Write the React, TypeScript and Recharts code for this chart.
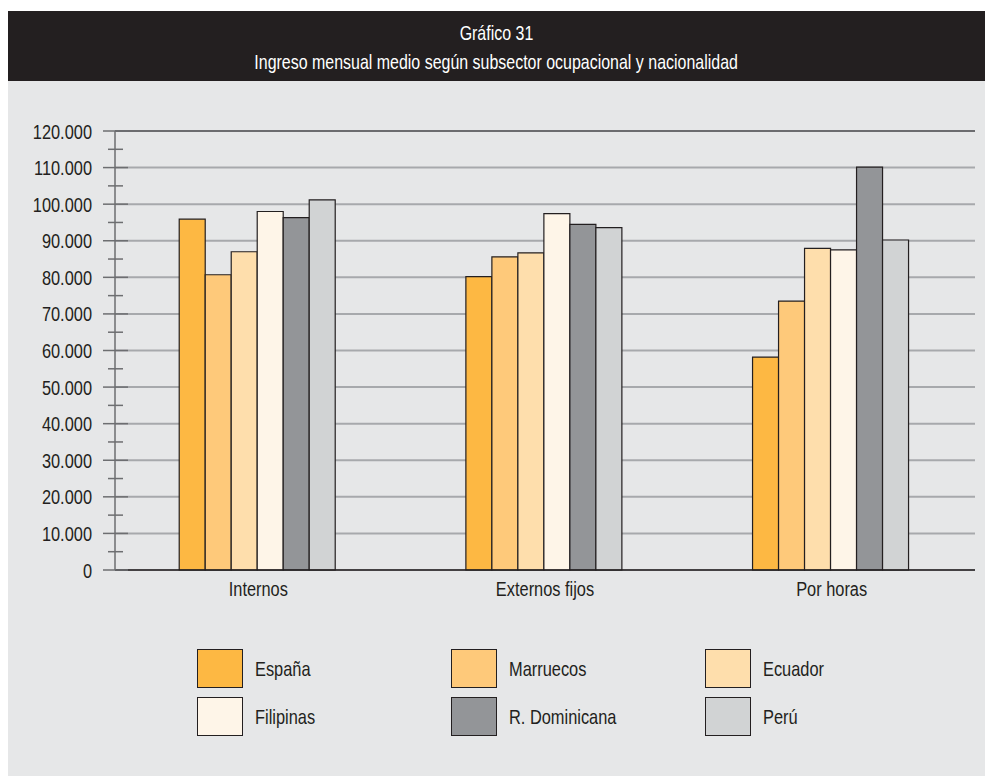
import React from 'react';
import { BarChart, Bar, XAxis, YAxis, CartesianGrid, ReferenceLine } from 'recharts';

const FONT = '"Liberation Sans", Arial, sans-serif';
const SQUEEZE = 0.78; // condensed look of the original typeface
const INK = '#231f20';

const categories = ['Internos', 'Externos fijos', 'Por horas'];

// values (ingreso mensual medio)
const espana = [95900, 80200, 58200];
const marruecos = [80700, 85600, 73500];
const ecuador = [87000, 86700, 87900];
const filipinas = [98000, 97400, 87500];
const rDominicana = [96300, 94500, 110100];
const peru = [101200, 93600, 90200];

const yMajor = [0, 10000, 20000, 30000, 40000, 50000, 60000, 70000, 80000, 90000, 100000, 110000, 120000];
const categoryBounds = [0, 1, 2, 3];

const series = [
  { key: 'espana', name: 'España', values: espana, color: '#fdb843' },
  { key: 'marruecos', name: 'Marruecos', values: marruecos, color: '#fec97a' },
  { key: 'ecuador', name: 'Ecuador', values: ecuador, color: '#fedeac' },
  { key: 'filipinas', name: 'Filipinas', values: filipinas, color: '#fef5e8' },
  { key: 'rDominicana', name: 'R. Dominicana', values: rDominicana, color: '#939598' },
  { key: 'peru', name: 'Perú', values: peru, color: '#d1d3d4' },
];

const data = categories.map((name, i) => {
  const row: any = { name };
  series.forEach(s => { row[s.key] = s.values[i]; });
  return row;
});

const yTicks = [...yMajor, ...yMajor.slice(1).map(v => v - 5000)].sort((a, b) => a - b);

const fmt = (v: number) => String(v).replace(/\B(?=(\d{3})+(?!\d))/g, '.');

// svg text squeezed horizontally around its anchor point
const Narrow = ({ x, y, anchor, children }: any) => (
  <text
    transform={`translate(${x},${y}) scale(${SQUEEZE},1)`}
    textAnchor={anchor}
    fontFamily={FONT}
    fontSize={21}
    fill={INK}
  >
    {children}
  </text>
);

// html text squeezed the same way
const NarrowSpan = ({ children, origin = 'left', k = SQUEEZE }: any) => (
  <span style={{ display: 'inline-block', transform: `scaleX(${k})`, transformOrigin: origin, whiteSpace: 'nowrap' }}>
    {children}
  </span>
);

const YTick = ({ x, y, payload }: any) => {
  const v = payload.value;
  const major = v % 10000 === 0;
  return (
    <g>
      <line x1={major ? x - 12 : x - 7} x2={major ? x + 13 : x + 8} y1={y} y2={y} stroke="#6d6e71" strokeWidth={1.5} />
      {major && <Narrow x={x - 23} y={y + 7.5} anchor="end">{fmt(v)}</Narrow>}
    </g>
  );
};

const XTick = ({ x, y, payload }: any) => (
  <Narrow x={x} y={y + 26} anchor="middle">{payload.value}</Narrow>
);

const BoundTick = ({ x, y }: any) => (
  <line x1={x} x2={x} y1={y - 8} y2={y + 8} stroke="#808285" strokeWidth={1.2} />
);

export default function App() {
  return (
    <div style={{ position: 'fixed', left: 8, top: 11, width: 977, height: 765, background: '#e6e7e8', fontFamily: FONT, overflow: 'hidden' }}>
      {/* header */}
      <div style={{ position: 'absolute', left: 0, top: 0, width: 977, height: 70, background: INK, color: '#fff', textAlign: 'center', fontSize: 21 }}>
        <div style={{ position: 'absolute', top: 10, width: '100%', lineHeight: '24px' }}>
          <NarrowSpan origin="center" k={0.76}>Gráfico 31</NarrowSpan>
        </div>
        <div style={{ position: 'absolute', top: 39, width: '100%', lineHeight: '24px' }}>
          <NarrowSpan origin="center" k={0.76}>Ingreso mensual medio según subsector ocupacional y nacionalidad</NarrowSpan>
        </div>
      </div>

      <div style={{ position: 'absolute', left: 0, top: 100 }}>
        <BarChart
          width={977}
          height={520}
          data={data}
          margin={{ top: 20, right: 10, bottom: 21, left: 0 }}
          barCategoryGap="22.4%"
          barGap={0}
        >
          <CartesianGrid vertical={false} horizontalValues={yMajor} stroke="#a7a9ac" strokeWidth={2} />
          <XAxis
            xAxisId="bounds"
            type="number"
            domain={[0, 3]}
            ticks={categoryBounds}
            height={0}
            axisLine={false}
            tickLine={false}
            tickSize={0}
            tickMargin={0}
            tick={<BoundTick />}
          />
          <XAxis
            dataKey="name"
            height={40}
            axisLine={{ stroke: INK, strokeWidth: 1.5 }}
            tickLine={false}
            tickSize={0}
            tickMargin={0}
            tick={<XTick />}
          />
          <YAxis
            width={107}
            domain={[0, 120000]}
            ticks={yTicks}
            interval={0}
            axisLine={{ stroke: '#6d6e71', strokeWidth: 1.5 }}
            tickLine={false}
            tickSize={0}
            tickMargin={0}
            tick={<YTick />}
          />
          <ReferenceLine y={120000} stroke="#58595b" strokeWidth={1.5} />
          <ReferenceLine x={3} xAxisId="bounds" stroke={INK} strokeWidth={1.5} />
          {series.map(s => (
            <Bar key={s.key} dataKey={s.key} name={s.name} fill={s.color} stroke={INK} strokeWidth={1.2} isAnimationActive={false} />
          ))}
        </BarChart>
      </div>

      {/* legend */}
      {series.map((s, i) => {
        const col = i % 3;
        const row = Math.floor(i / 3);
        return (
          <div key={s.key} style={{ position: 'absolute', left: 189 + col * 254, top: 638 + row * 48, height: 39, display: 'flex', alignItems: 'center' }}>
            <div style={{ width: 44, height: 37, background: s.color, border: `1.5px solid ${INK}` }} />
            <span style={{ marginLeft: 12, fontSize: 21, color: INK }}>
              <NarrowSpan>{s.name}</NarrowSpan>
            </span>
          </div>
        );
      })}
    </div>
  );
}
